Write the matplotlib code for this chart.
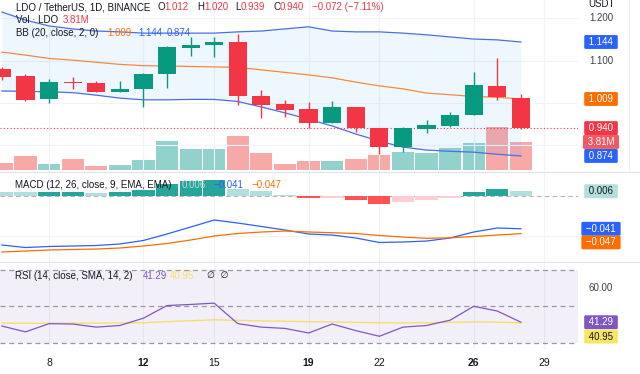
import numpy as np
import matplotlib.pyplot as plt
from matplotlib.lines import Line2D
from matplotlib.transforms import blended_transform_factory

plt.rcParams['font.family'] = ['Liberation Sans', 'DejaVu Sans']

# ---- data ----
days = np.arange(6, 29)
opens  = [1.080, 1.063, 1.009, 1.049, 1.047, 1.026, 1.033, 1.068, 1.130, 1.137, 1.144, 1.016,
          0.997, 0.985, 0.952, 0.990, 0.940, 0.895, 0.938, 0.945, 0.971, 1.040, 1.012]
highs  = [1.085, 1.068, 1.056, 1.061, 1.052, 1.052, 1.071, 1.134, 1.156, 1.156, 1.163, 1.030,
          1.007, 1.002, 1.004, 0.990, 0.940, 0.943, 0.959, 0.978, 1.073, 1.106, 1.020]
lows   = [1.055, 1.004, 1.000, 1.033, 1.025, 1.025, 0.990, 1.035, 1.111, 1.108, 0.995, 0.964,
          0.966, 0.940, 0.952, 0.931, 0.879, 0.883, 0.928, 0.943, 0.971, 1.007, 0.939]
closes = [1.061, 1.007, 1.049, 1.046, 1.026, 1.033, 1.068, 1.132, 1.137, 1.144, 1.016, 0.995,
          0.983, 0.952, 0.990, 0.940, 0.895, 0.940, 0.947, 0.971, 1.042, 1.014, 0.940]
volume = [0.95, 1.90, 0.82, 1.50, 0.54, 0.68, 1.36, 3.95, 2.86, 2.86, 4.63, 2.31,
          0.82, 1.22, 1.22, 1.50, 2.04, 2.45, 2.31, 3.00, 3.67, 5.85, 3.81]  # millions

bb_upper = [1.215, 1.196, 1.182, 1.175, 1.170, 1.168, 1.165, 1.165, 1.165, 1.165, 1.168, 1.170,
            1.175, 1.180, 1.170, 1.168, 1.168, 1.165, 1.161, 1.156, 1.151, 1.149, 1.144]
bb_mid   = [1.120, 1.113, 1.105, 1.101, 1.096, 1.091, 1.088, 1.087, 1.086, 1.085, 1.084, 1.078,
            1.072, 1.066, 1.059, 1.049, 1.040, 1.033, 1.023, 1.019, 1.015, 1.013, 1.009]
bb_lower = [1.028, 1.027, 1.026, 1.024, 1.018, 1.011, 1.007, 1.007, 1.008, 1.008, 1.003, 0.990,
            0.976, 0.961, 0.945, 0.926, 0.909, 0.895, 0.888, 0.885, 0.883, 0.878, 0.874]

macd   = [-0.0613, -0.0644, -0.0631, -0.0625, -0.0619, -0.0600, -0.0556, -0.0475, -0.0388, -0.0300,
          -0.0338, -0.0381, -0.0425, -0.0475, -0.0488, -0.0525, -0.0581, -0.0575, -0.0563, -0.0525,
          -0.0450, -0.0400, -0.0410]
signal = [-0.0700, -0.0688, -0.0675, -0.0669, -0.0663, -0.0650, -0.0625, -0.0594, -0.0550, -0.0500,
          -0.0469, -0.0450, -0.0438, -0.0450, -0.0459, -0.0469, -0.0494, -0.0513, -0.0529, -0.0523,
          -0.0506, -0.0488, -0.0470]
hist   = [0.0055, 0.0045, 0.0050, 0.0052, 0.0042, 0.0050, 0.0075, 0.0150, 0.0190, 0.0200,
          0.0088, 0.0063, 0.0013, -0.0029, -0.0021, -0.0054, -0.0096, -0.0071, -0.0050, -0.0021,
          0.0054, 0.0084, 0.0060]

rsi    = [39.2, 36.0, 40.5, 40.3, 38.6, 39.5, 43.5, 50.4, 51.0, 51.7, 40.5, 38.6,
          37.9, 35.4, 40.3, 36.7, 33.6, 38.6, 39.5, 42.4, 50.0, 47.4, 41.29]
rsi_ma = [40.8, 40.7, 40.7, 40.8, 40.8, 40.9, 41.0, 41.6, 42.1, 42.6, 42.3, 42.0,
          41.8, 41.6, 41.4, 41.2, 41.0, 40.9, 41.0, 41.2, 41.5, 41.3, 40.95]

tick_days = [8, 12, 15, 19, 22, 26, 29]
tick_bold = [False, True, False, True, False, True, False]

UP, DOWN = '#089981', '#f23645'
BLUE, ORANGE = '#2962ff', '#ff6d00'
GRID = '#f0f3fa'
TXT = '#131722'

# ---- layout ----
W, H = 640, 374
fig = plt.figure(figsize=(6.4, 3.74), dpi=100)


def panel(top, bottom):
    a = fig.add_axes([0, 1 - bottom / H, 578 / W, (bottom - top) / H])
    a.set_xlim(5.92, 30.42)
    for s in a.spines.values():
        s.set_visible(False)
    a.tick_params(left=False, bottom=False, labelleft=False, labelbottom=False)
    for d in tick_days:
        a.axvline(d, color=GRID, lw=0.8, zorder=0)
    return a


ax_vol = panel(0, 172)
ax = panel(0, 172)
ax.patch.set_alpha(0)
ax_macd = panel(172, 262)
ax_rsi = panel(262, 350)

o, h, l, c = map(np.array, (opens, highs, lows, closes))
up = c >= o

# volume
ax_vol.bar(days, volume, width=0.94, color=np.where(up, '#92d2cc', '#f7a9a7'), zorder=2)
ax_vol.set_ylim(-0.27, 23.1)

# price
ax.set_ylim(0.836, 1.2435)
for p in [0.9, 1.0, 1.1, 1.2]:
    ax.axhline(p, color=GRID, lw=0.8, zorder=0)
ax.fill_between(days, bb_lower, bb_upper, color='#2196f3', alpha=0.07, lw=0, zorder=1)
ax.plot(days, bb_upper, color='#4a6fe0', lw=0.9, zorder=2)
ax.plot(days, bb_lower, color='#4a6fe0', lw=0.9, zorder=2)
ax.plot(days, bb_mid, color='#f5893a', lw=0.9, zorder=2)
col = np.where(up, UP, DOWN)
ax.vlines(days, l, h, colors=col, lw=1, zorder=3)
body = np.maximum(np.abs(c - o), 0.002)
ax.bar(days, body, bottom=np.minimum(o, c), width=0.77, color=col, zorder=4)
ax.axhline(closes[-1], color=DOWN, lw=0.8, ls=(0, (1, 2)), zorder=2)

# macd
ax_macd.set_ylim(-0.0825, 0.030)
ax_macd.axhline(-0.05, color=GRID, lw=0.8, zorder=0)
ax_macd.axhline(0, color='#b2b5be', lw=0.8, ls=(0, (4, 3)), zorder=1)
hcol = []
for i, v in enumerate(hist):
    prev = hist[i - 1] if i else v + 1
    if v >= 0:
        hcol.append('#26a69a' if v > prev else '#b2dfdb')
    else:
        hcol.append('#ffcdd2' if v > prev else '#ff5252')
ax_macd.bar(days, hist, width=0.94, color=hcol, zorder=2)
ax_macd.plot(days, macd, color=BLUE, lw=0.9, zorder=3)
ax_macd.plot(days, signal, color=ORANGE, lw=0.9, zorder=3)

# rsi
ax_rsi.set_ylim(26.1, 74.2)
ax_rsi.axhspan(30, 70, color='#7e57c2', alpha=0.09, lw=0, zorder=0)
for lv in [70, 50, 30]:
    ax_rsi.axhline(lv, color='#9598a1', lw=0.9, ls=(0, (4, 3)), zorder=1)
ax_rsi.plot(days, rsi_ma, color='#f5df6b', lw=1, zorder=2)
ax_rsi.plot(days, rsi, color='#7e57c2', lw=0.9, zorder=3)

ax_rsi.set_xticks(tick_days)
ax_rsi.tick_params(labelbottom=True, length=0, pad=6, labelsize=7.5, labelcolor=TXT)
for lab, b in zip(ax_rsi.get_xticklabels(), tick_bold):
    lab.set_fontweight('bold' if b else 'normal')

# separators
for yy in [172, 262]:
    fig.add_artist(Line2D([0, 1], [1 - yy / H] * 2, color='#e0e3eb', lw=0.8))
fig.add_artist(Line2D([629 / W] * 2, [1 - 172 / H, 1], color='#eceef2', lw=0.8))


# ---- legend texts ----
def put(x, y, s, color=TXT, **kw):
    fig.text(x / W, 1 - y / H, s, color=color, fontsize=7, va='center', ha='left', zorder=10, **kw)


put(16, 7, 'LDO / TetherUS, 1D, BINANCE')
for lx, lab, vx, val in [(157, 'O', 164, '1.012'), (197, 'H', 204, '1.020'),
                         (235, 'L', 241, '0.939'), (273, 'C', 280, '0.940')]:
    put(lx, 7, lab)
    put(vx, 7, val, DOWN)
put(312, 7, '\u22120.072 (\u22127.11%)', DOWN)
put(16, 20, 'Vol \u00b7 LDO')
put(63, 20, '3.81M', DOWN)
put(16, 33, 'BB (20, close, 2, 0)')
put(107, 33, '1.009', ORANGE)
put(138, 33, '1.144', BLUE)
put(167, 33, '0.874', BLUE)

put(15, 185, 'MACD (12, 26, close, 9, EMA, EMA)')
put(182, 185, '0.006', '#b2dfdb')
put(213, 185, '\u22120.041', BLUE)
put(252, 185, '\u22120.047', ORANGE)

put(15, 276, 'RSI (14, close, SMA, 14, 2)')
put(143, 276, '41.29', '#7e57c2')
put(170, 276, '40.95', '#f5df6b')
fig.text(207 / W, 1 - 276 / H, '\u2205  \u2205', color=TXT, fontsize=6.5, va='center',
         family=['DejaVu Sans'])


# ---- right scale labels ----
def tag(a, yval, s, fc=None, color='white', dy=0):
    tr = blended_transform_factory(a.transAxes, a.transData)
    kw = {}
    if fc:
        kw['bbox'] = dict(boxstyle='round,pad=0.2,rounding_size=0.15', fc=fc, ec='none')
    a.text(601 / 578, yval + dy, ' ' + s + ' ' if fc else s, transform=tr, ha='center',
           va='center', fontsize=7, color=color, clip_on=False, zorder=10, **kw)


tag(ax, 1.2, '1.200', color='#3d4049')
tag(ax, 1.1, '1.100', color='#3d4049')
tag(ax, bb_upper[-1], '1.144', BLUE)
tag(ax, bb_mid[-1], '1.009', ORANGE)
tag(ax, closes[-1], '0.940', DOWN)
tag(ax, bb_lower[-1], '0.874', BLUE)
tag(ax_vol, volume[-1], '3.81M', '#ef5a63')
fig.text(601 / W, 1 - 4 / H, 'USDT', fontsize=7, color=TXT, ha='center', va='center')

tag(ax_macd, hist[-1], '0.006', '#b2dfdb', color=TXT, dy=0.0)
tag(ax_macd, macd[-1], '\u22120.041', BLUE)
tag(ax_macd, signal[-1], '\u22120.047', ORANGE, dy=-0.011)

tag(ax_rsi, 60, '60.00', color='#3d4049')
tag(ax_rsi, rsi[-1], '41.29', '#7e57c2')
tag(ax_rsi, rsi_ma[-1], '40.95', '#f5e663', color=TXT, dy=-7.5)

fig.savefig('out.png', dpi=100, facecolor='white')
